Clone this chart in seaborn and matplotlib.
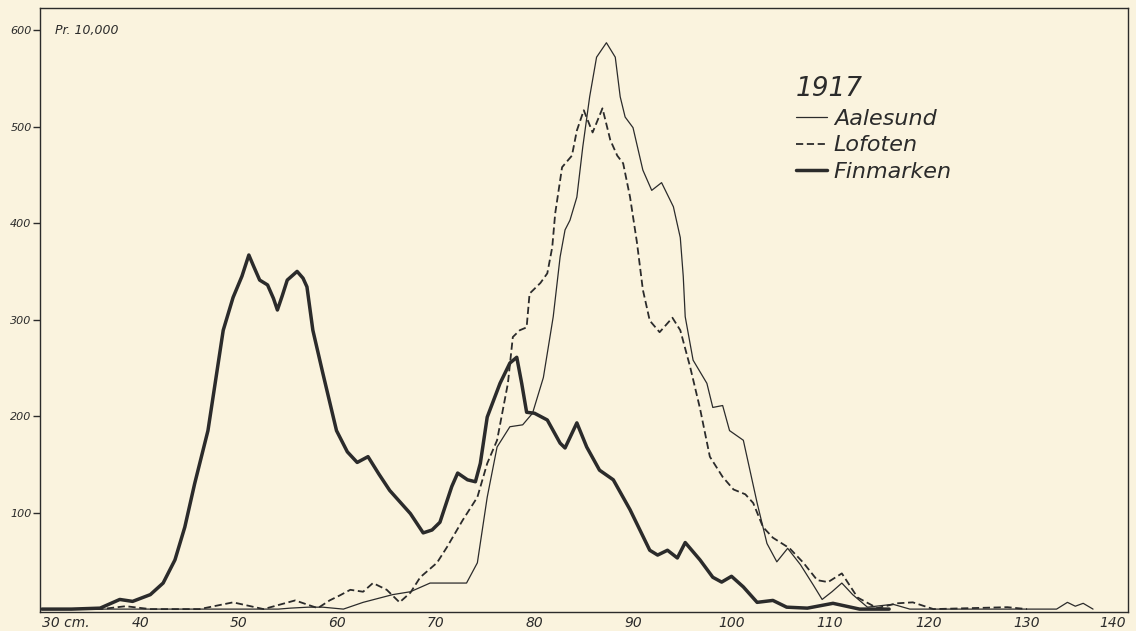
import matplotlib
matplotlib.use("Agg")
import matplotlib.pyplot as plt
import seaborn as sns

# ======================================
# DATA  (length in cm, count per 10,000)
# ======================================

aalesund_x = [30, 54, 55.2, 57, 58.5, 60.6, 62.6, 65.6, 67.4, 69.4, 71.4, 73.1, 74.2, 75.2,
              76.2, 77.5, 78.8, 79.8, 80.9, 81.9, 82.6, 83.1, 83.6, 84.3, 84.9, 85.6, 86.3,
              87.3, 88.2, 88.7, 89.2, 90, 91, 91.9, 92.9, 94.1, 94.8, 95.1, 95.3, 96.1, 97.5,
              98.1, 99.1, 99.8, 101.2, 102.6, 103.6, 104.6, 105.7, 107, 108.3, 109.2, 110.2,
              111.2, 112.3, 113.8, 116.4, 118.1, 133, 134.1, 134.9, 135.7, 136.7]
aalesund_y = [0, 0, 1, 2, 2, 0, 7, 15, 18, 27, 27, 27, 48, 116,
              168, 189, 191, 203, 240, 303, 365, 393, 403, 427, 479, 531, 572,
              587, 572, 531, 510, 499, 455, 434, 442, 417, 385, 345, 303, 258, 234,
              209, 211, 185, 175, 110, 68, 49, 63, 46, 25, 10, 18,
              27, 15, 2, 5, 0, 0, 7, 3, 6, 0]

lofoten_x = [30, 36, 38.5, 41, 46, 49.4, 52.5, 55.7, 58, 59.2, 60.2, 61.3, 62.6, 63.6, 65,
             66.3, 67.4, 68.4, 70.1, 71.1, 72.7, 74.2, 75.2, 76.2, 77.3, 77.8, 78.5, 79.2,
             79.5, 80.6, 81.3, 81.8, 82.1, 82.8, 83.8, 84.3, 85, 85.9, 86.9, 87.7, 88.4, 89,
             89.7, 90.4, 91, 91.7, 92.7, 94, 94.8, 95.8, 96.8, 97.8, 99.1, 100.2, 101.4,
             102.2, 103.2, 104.2, 105.9, 107.3, 108.7, 109.8, 111.2, 112.8, 114.8, 116.8,
             118.4, 120.5, 128, 130]
lofoten_y = [0, 0, 3, 0, 0, 7, 0, 9, 1, 9, 14, 20, 18, 27, 20,
             7, 17, 33, 48, 64, 92, 116, 151, 175, 234, 282, 289, 292,
             327, 338, 348, 375, 410, 458, 470, 496, 517, 494, 519, 486, 470, 462,
             427, 380, 331, 299, 287, 302, 289, 251, 208, 158, 137, 124, 119,
             110, 85, 74, 63, 48, 30, 28, 37, 12, 1, 6,
             7, 0, 2, 0]

finmarken_x = [30, 33, 35.9, 37.9, 39.2, 41, 42.3, 43.5, 44.5, 45.5, 46.85, 48.4, 49.4, 50.3,
               51, 51.5, 52.1, 52.9, 53.5, 53.9, 54.4, 54.9, 55.9, 56.5, 56.9, 57.5, 58.5,
               59.9, 61, 62, 63.1, 64.2, 65.3, 67.4, 68.7, 69.6, 70.4, 71.6, 72.2, 73.2, 74,
               74.5, 75.2, 76.5, 77.5, 78.2, 78.7, 79.2, 80, 81.3, 82.6, 83.1, 84.3, 85.3,
               86.6, 88, 89.7, 91.7, 92.5, 93.5, 94.5, 95.3, 96.8, 98.1, 99, 100, 101.2,
               102.6, 104.2, 105.6, 107.7, 110.3, 113, 116]
finmarken_y = [0, 0, 1, 10, 8, 15, 27, 51, 85, 130, 185, 289, 323, 345,
               367, 355, 341, 336, 322, 310, 325, 341, 350, 343, 334, 289, 245,
               185, 163, 152, 158, 140, 123, 99, 79, 82, 90, 127, 141, 134, 132,
               151, 199, 234, 255, 261, 234, 204, 203, 196, 172, 167, 193, 168,
               144, 134, 103, 61, 56, 61, 53, 69, 51, 33, 28, 34, 23,
               7, 9, 2, 1, 6, 0, 0]

x_ticks = [30, 40, 50, 60, 70, 80, 90, 100, 110, 120, 130, 140]
x_labels = ["30 cm.", "40", "50", "60", "70", "80", "90", "100", "110", "120", "130", "140"]
y_ticks = [100, 200, 300, 400, 500, 600]

# ======================================
# PLOT
# ======================================

sns.set_style("ticks")
plt.rcParams["font.family"] = ["DejaVu Sans"]

paper = "#faf3de"
ink = "#2b2b2b"

fig = plt.figure(figsize=(11.36, 6.31), dpi=100, facecolor=paper)
ax = fig.add_axes([40 / 1136, 19 / 631, 1088 / 1136, 604 / 631])
ax.set_facecolor(paper)

sns.lineplot(x=aalesund_x, y=aalesund_y, ax=ax, color=ink, linewidth=0.9,
             label="Aalesund", sort=False)
sns.lineplot(x=lofoten_x, y=lofoten_y, ax=ax, color=ink, linewidth=1.3,
             linestyle=(0, (4, 2)), label="Lofoten", sort=False)
sns.lineplot(x=finmarken_x, y=finmarken_y, ax=ax, color=ink, linewidth=2.5,
             label="Finmarken", sort=False)

ax.set_xlim(29.8, 140.25)
ax.set_ylim(-3, 623)
ax.set_xticks(x_ticks)
ax.set_xticklabels(x_labels, fontstyle="italic", fontsize=10, color=ink)
# first label starts at the axis corner, last one sits against the right edge
ax.get_xticklabels()[0].set_ha("left")
ax.get_xticklabels()[-1].set_ha("right")
ax.set_yticks(y_ticks)
ax.set_yticklabels([str(v) for v in y_ticks], fontstyle="italic", fontsize=8, color=ink)
ax.tick_params(axis="x", length=0, pad=3)
ax.tick_params(axis="y", direction="out", length=5, width=1, pad=1, color=ink)
ax.set_xlabel("")
ax.set_ylabel("")
for s in ax.spines.values():
    s.set_color(ink)
    s.set_linewidth(1.0)

ax.text(31.3, 600, "Pr. 10,000", fontstyle="italic", fontsize=9, color=ink,
        ha="left", va="center")

leg = ax.legend(title="1917", loc="upper left", bbox_to_anchor=(736 / 1088, (612 - 56) / 604),
                frameon=False, fontsize=16, title_fontsize=19, handlelength=1.4,
                handletextpad=0.3, labelspacing=0.3, alignment="left")
for t in leg.get_texts():
    t.set_fontstyle("italic")
    t.set_color(ink)
leg.get_title().set_fontstyle("italic")
leg.get_title().set_color(ink)

plt.savefig("out.png", dpi=100, facecolor=paper)
plt.close()
